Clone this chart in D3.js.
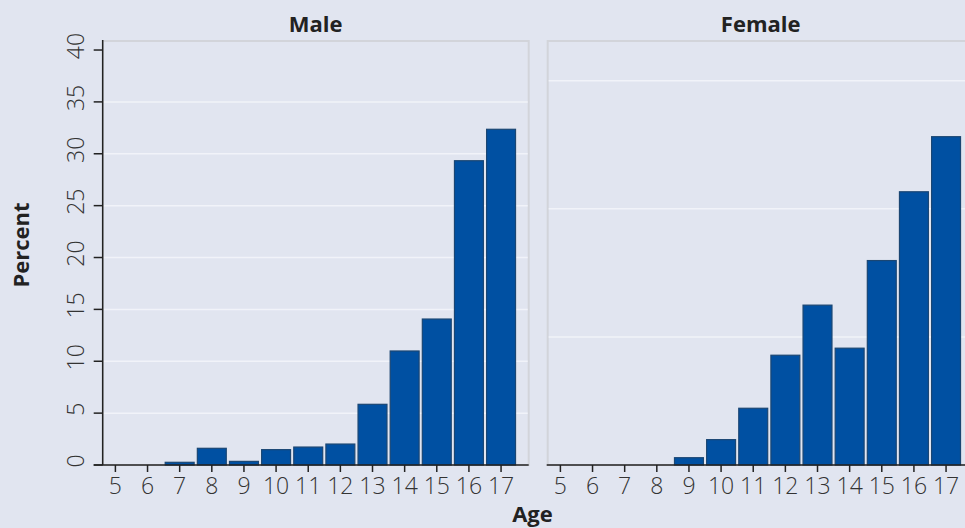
<!DOCTYPE html>
<html>
<head>
<meta charset="utf-8">
<script src="https://cdn.jsdelivr.net/npm/d3@7"></script>
<style>
  html, body { margin: 0; padding: 0; background: #e1e5f0; }
  svg { display: block; font-family: "Open Sans", sans-serif; }
  .tick-label { font-size: 23px; font-weight: 300; fill: #333; }
  .title { font-size: 22px; font-weight: 700; fill: #222; }
</style>
</head>
<body>
<svg id="chart" width="965" height="528"></svg>
<script>
// data
var ages = [5, 6, 7, 8, 9, 10, 11, 12, 13, 14, 15, 16, 17];
var male = [0, 0, 0.26, 1.61, 0.35, 1.48, 1.73, 2.02, 5.85, 10.99, 14.07, 29.33, 32.36];
var female = [0, 0, 0, 0, 0.57, 1.98, 4.43, 8.57, 12.48, 9.12, 15.96, 21.33, 25.63];
var maleTicks = [0, 5, 10, 15, 20, 25, 30, 35, 40];
var maleGrid = [5, 10, 15, 20, 25, 30, 35];
var femaleGrid = [10, 20, 30];
var panelTitles = ["Male", "Female"];

var svg = d3.select("#chart");
var plotTop = 41, plotBottom = 465, panelW = 426;

var panels = [
  {title: panelTitles[0], values: male, x0: 102.7, ymax: 40.87, grid: maleGrid, yaxis: true},
  {title: panelTitles[1], values: female, x0: 547.7, ymax: 33.1, grid: femaleGrid, yaxis: false}
];

panels.forEach(function (p) {
  var x = d3.scaleLinear().domain([4.605, 17.86]).range([p.x0, p.x0 + panelW]);
  var y = d3.scaleLinear().domain([0, p.ymax]).range([plotBottom, plotTop]);
  var g = svg.append("g");
  var step = x(6) - x(5);
  var bw = step * 0.9;

  // panel border
  g.append("rect")
    .attr("x", p.x0).attr("y", plotTop)
    .attr("width", panelW).attr("height", plotBottom - plotTop)
    .attr("fill", "none").attr("stroke", "#d2d4da").attr("stroke-width", 2);

  // grid lines
  g.selectAll(".grid").data(p.grid).enter().append("line")
    .attr("x1", p.x0 + 1).attr("x2", p.x0 + panelW - 1)
    .attr("y1", function (d) { return y(d); })
    .attr("y2", function (d) { return y(d); })
    .attr("stroke", "#f1f3f9").attr("stroke-width", 1.5);

  // bars
  var data = ages.map(function (a, i) { return {age: a, v: p.values[i]}; })
    .filter(function (d) { return d.v > 0; });
  g.selectAll(".bar").data(data).enter().append("rect")
    .attr("x", function (d) { return x(d.age) - bw / 2; })
    .attr("y", function (d) { return y(d.v); })
    .attr("width", bw)
    .attr("height", function (d) { return plotBottom - y(d.v); })
    .attr("fill", "#0050a2")
    .attr("stroke", "#1a4673").attr("stroke-width", 1.2);

  // x axis
  g.append("line")
    .attr("x1", p.yaxis ? p.x0 - 9 : p.x0 - 1).attr("x2", p.x0 + panelW)
    .attr("y1", plotBottom).attr("y2", plotBottom)
    .attr("stroke", "#222").attr("stroke-width", 1.5);
  g.selectAll(".xt").data(ages).enter().append("line")
    .attr("x1", function (d) { return x(d); })
    .attr("x2", function (d) { return x(d); })
    .attr("y1", plotBottom).attr("y2", plotBottom + 7)
    .attr("stroke", "#222").attr("stroke-width", 1.5);
  g.selectAll(".xl").data(ages).enter().append("text")
    .attr("class", "tick-label")
    .attr("x", function (d) { return x(d); })
    .attr("y", 494)
    .attr("text-anchor", "middle")
    .text(function (d) { return d; });

  // y axis (male only)
  if (p.yaxis) {
    g.append("line")
      .attr("x1", p.x0).attr("x2", p.x0)
      .attr("y1", plotTop - 1).attr("y2", plotBottom)
      .attr("stroke", "#222").attr("stroke-width", 1.5);
    g.selectAll(".yt").data(maleTicks).enter().append("line")
      .attr("x1", p.x0 - 9).attr("x2", p.x0)
      .attr("y1", function (d) { return y(d); })
      .attr("y2", function (d) { return y(d); })
      .attr("stroke", "#222").attr("stroke-width", 1.5);
    g.selectAll(".yl").data(maleTicks).enter().append("text")
      .attr("class", "tick-label")
      .attr("transform", function (d) { return "translate(84," + (y(d) - 4) + ") rotate(-90)"; })
      .attr("text-anchor", "middle")
      .text(function (d) { return d; });
  }

  // panel title
  svg.append("text")
    .attr("class", "title")
    .attr("x", p.x0 + panelW / 2)
    .attr("y", 32)
    .attr("text-anchor", "middle")
    .text(p.title);
});

// axis titles
svg.append("text")
  .attr("class", "title")
  .attr("x", 532.5).attr("y", 522)
  .attr("text-anchor", "middle")
  .text("Age");

svg.append("text")
  .attr("class", "title")
  .attr("transform", "translate(28.5,245) rotate(-90)")
  .attr("text-anchor", "middle")
  .text("Percent");
</script>
</body>
</html>
